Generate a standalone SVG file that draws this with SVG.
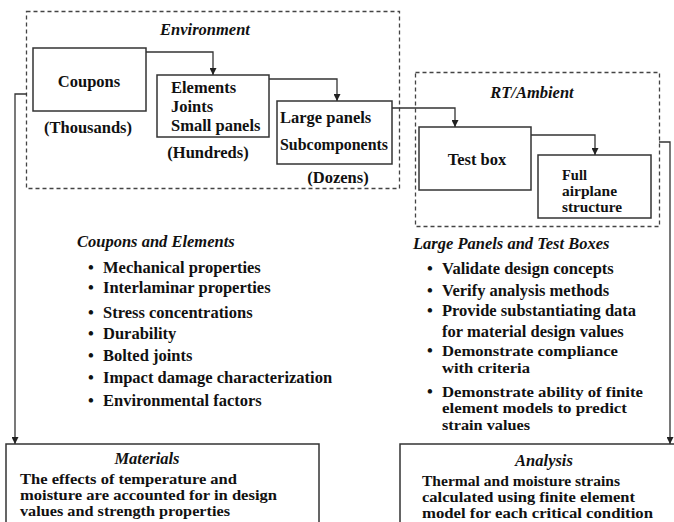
<svg xmlns="http://www.w3.org/2000/svg" width="674" height="522" viewBox="0 0 674 522">
<defs>
<marker id="ah" viewBox="0 0 8 8" refX="8" refY="4" markerWidth="7" markerHeight="7" markerUnits="userSpaceOnUse" orient="auto">
<path d="M0,0 L8,4 L0,8 Z" fill="#222"/>
</marker>
<style>
text{font-family:"Liberation Serif","Times New Roman",serif;font-size:16.5px;font-weight:bold;fill:#111;}
.it{font-style:italic;}
.t{font-size:14.5px;}
.box{fill:#fff;stroke:#333;stroke-width:1.5;}
.dash{fill:none;stroke:#444;stroke-width:1.3;stroke-dasharray:4,3;}
.c{fill:none;stroke:#333;stroke-width:1.3;}
.m{text-anchor:middle;}
</style>
</defs>
<rect width="674" height="522" fill="#fff"/>
<g id="env">
<rect class="dash" x="26.5" y="11.5" width="373" height="177"/>
<text class="it m" x="205" y="35">Environment</text>
</g>
<g id="rt">
<rect class="dash" x="415.5" y="72.5" width="244" height="154"/>
<text class="it m" x="532" y="98">RT/Ambient</text>
</g>
<g id="coupons">
<rect class="box" x="33" y="48" width="113" height="63"/>
<text class="m" x="89" y="87">Coupons</text>
<text class="m" x="88" y="133">(Thousands)</text>
</g>
<g id="elements">
<rect class="box" x="157" y="75" width="112" height="62"/>
<text x="171" y="93">Elements</text>
<text x="171" y="112">Joints</text>
<text x="171" y="131">Small panels</text>
<text class="m" x="208" y="158">(Hundreds)</text>
</g>
<g id="large">
<rect class="box" x="277" y="101" width="115" height="63"/>
<text x="280" y="123">Large panels</text>
<text x="280" y="150" textLength="108" lengthAdjust="spacingAndGlyphs">Subcomponents</text>
<text class="m" x="338" y="183">(Dozens)</text>
</g>
<g id="testbox">
<rect class="box" x="419" y="127" width="112" height="63"/>
<text class="m" x="477" y="165">Test box</text>
</g>
<g id="full">
<rect class="box" x="538" y="155" width="113" height="63"/>
<text class="t" x="562" y="180">Full</text>
<text class="t" x="562" y="196" textLength="55" lengthAdjust="spacingAndGlyphs">airplane</text>
<text class="t" x="562" y="212" textLength="60" lengthAdjust="spacingAndGlyphs">structure</text>
</g>
<g id="coupons-list">
<text class="it" x="77" y="247">Coupons and Elements</text>
<text x="88" y="273">•</text><text x="103" y="273">Mechanical properties</text>
<text x="88" y="293">•</text><text x="103" y="293">Interlaminar properties</text>
<text x="88" y="318">•</text><text x="103" y="318">Stress concentrations</text>
<text x="88" y="339">•</text><text x="103" y="339">Durability</text>
<text x="88" y="361">•</text><text x="103" y="361">Bolted joints</text>
<text x="88" y="383">•</text><text x="103" y="383">Impact damage characterization</text>
<text x="88" y="406">•</text><text x="103" y="406">Environmental factors</text>
</g>
<g id="panels-list">
<text class="it" x="413" y="249">Large Panels and Test Boxes</text>
<text x="427" y="274">•</text><text x="442" y="274">Validate design concepts</text>
<text x="427" y="296">•</text><text x="442" y="296">Verify analysis methods</text>
<text x="427" y="316">•</text><text x="442" y="316">Provide substantiating data</text>
<text x="442" y="337">for material design values</text>
<text x="427" y="356">•</text><text class="t" x="442" y="356" textLength="176" lengthAdjust="spacingAndGlyphs">Demonstrate compliance</text>
<text class="t" x="442" y="373" textLength="88" lengthAdjust="spacingAndGlyphs">with criteria</text>
<text x="427" y="397">•</text><text class="t" x="442" y="397" textLength="201" lengthAdjust="spacingAndGlyphs">Demonstrate ability of finite</text>
<text class="t" x="442" y="413" textLength="185" lengthAdjust="spacingAndGlyphs">element models to predict</text>
<text class="t" x="442" y="430" textLength="88" lengthAdjust="spacingAndGlyphs">strain values</text>
</g>
<g id="materials">
<rect class="box" x="6" y="444" width="313" height="90"/>
<text class="it m" x="147" y="464">Materials</text>
<text class="t" x="20" y="484" textLength="217" lengthAdjust="spacingAndGlyphs">The effects of temperature and</text>
<text class="t" x="20" y="500" textLength="257" lengthAdjust="spacingAndGlyphs">moisture are accounted for in design</text>
<text class="t" x="20" y="516" textLength="210" lengthAdjust="spacingAndGlyphs">values and strength properties</text>
</g>
<g id="analysis">
<rect class="box" x="400" y="444" width="285" height="90"/>
<text class="it m" x="544" y="466">Analysis</text>
<text class="t" x="422" y="486" textLength="198" lengthAdjust="spacingAndGlyphs">Thermal and moisture strains</text>
<text class="t" x="422" y="502" textLength="213" lengthAdjust="spacingAndGlyphs">calculated using finite element</text>
<text class="t" x="422" y="518" textLength="231" lengthAdjust="spacingAndGlyphs">model for each critical condition</text>
</g>
<g id="connectors">
<path class="c" d="M146,52 H213 V75" marker-end="url(#ah)"/>
<path class="c" d="M269,79 H337 V101" marker-end="url(#ah)"/>
<path class="c" d="M392,108 H455 V127" marker-end="url(#ah)"/>
<path class="c" d="M531,135 H595 V155" marker-end="url(#ah)"/>
<path class="c" d="M27,94 H15 V444" marker-end="url(#ah)"/>
<path class="c" d="M659,142 H670 V444" marker-end="url(#ah)"/>
</g>
</svg>
